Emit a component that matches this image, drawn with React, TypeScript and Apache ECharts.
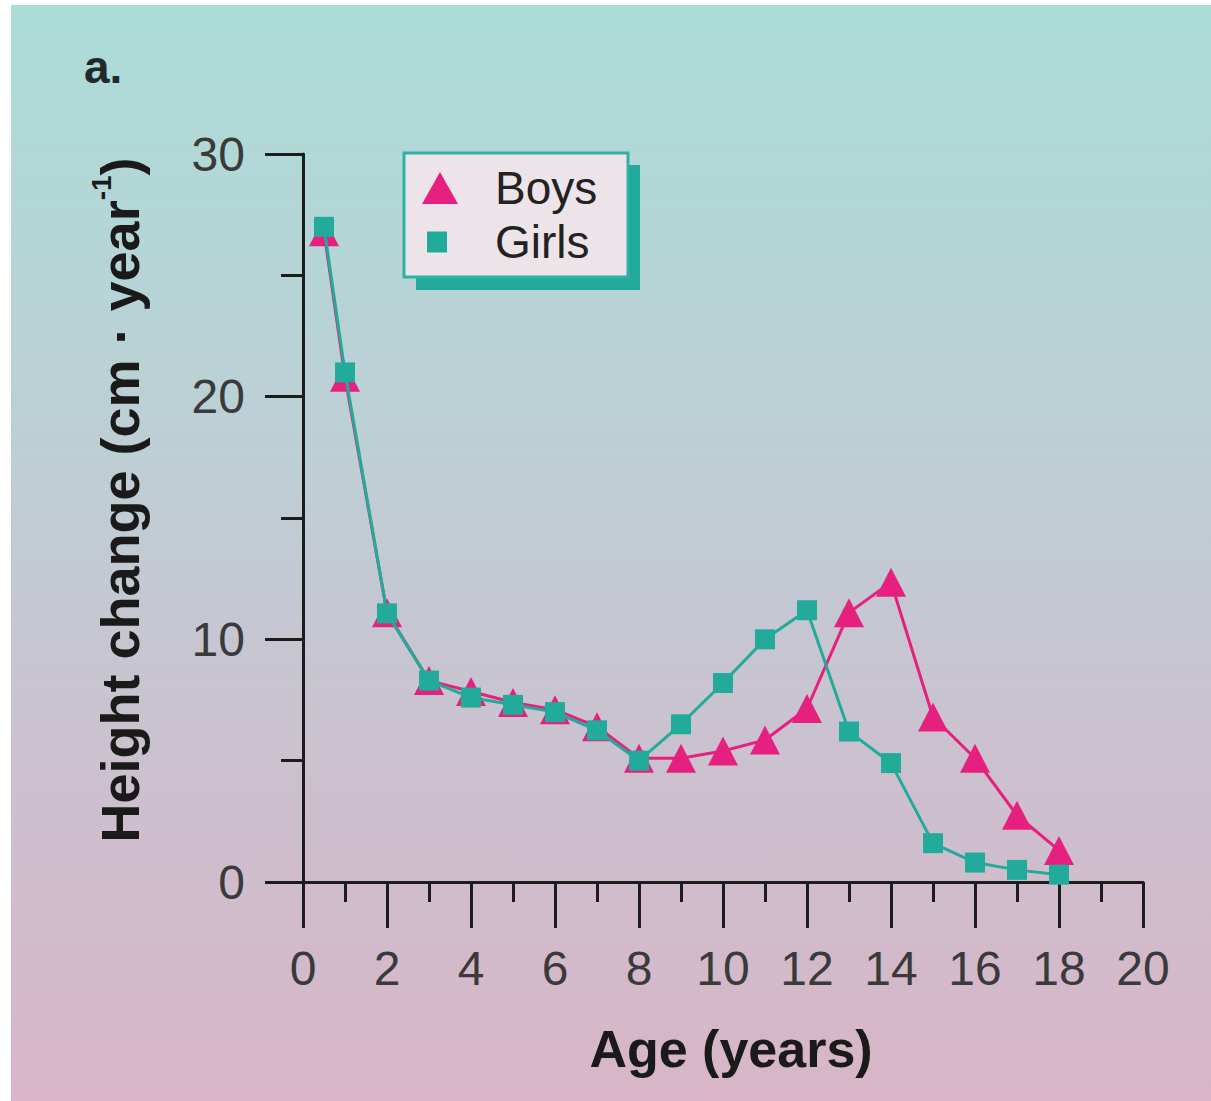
import React, { useEffect, useRef } from "react";
import * as echarts from "echarts";

const ages = [0.5, 1, 2, 3, 4, 5, 6, 7, 8, 9, 10, 11, 12, 13, 14, 15, 16, 17, 18];
const boys = [26.8, 20.8, 11.1, 8.3, 7.85, 7.4, 7.1, 6.4, 5.1, 5.1, 5.4, 5.85, 7.15, 11.1, 12.35, 6.8, 5.1, 2.75, 1.3];
const girls = [27.0, 21.0, 11.07, 8.3, 7.6, 7.3, 7.0, 6.25, 5.0, 6.5, 8.2, 10.0, 11.2, 6.2, 4.9, 1.6, 0.8, 0.5, 0.3];
const xTicks = { min: 0, max: 20, interval: 2 };
const yTicks = { min: 0, max: 30, interval: 10 };

const BOY = "#e6207e";
const GIRL = "#22ab9b";
const AXIS = "#1c1c1c";

export default function App() {
  const ref = useRef<HTMLDivElement>(null);
  useEffect(() => {
    if (!ref.current) return;
    const chart = echarts.init(ref.current, null, { renderer: "svg" });
    const font = "Liberation Sans, Arial, Helvetica, sans-serif";
    chart.setOption({
      animation: false,
      backgroundColor: "#ffffff",
      textStyle: { fontFamily: font },
      grid: { left: 303, top: 154, right: 68, bottom: 219, containLabel: false },
      xAxis: {
        type: "value",
        min: xTicks.min,
        max: xTicks.max,
        interval: xTicks.interval,
        name: "Age (years)",
        nameLocation: "middle",
        nameGap: 141,
        nameTextStyle: { fontSize: 52, fontWeight: "bold", color: "#1a1a1a", fontFamily: font, padding: [0, 0, 0, 16] },
        axisLine: { show: true, lineStyle: { color: AXIS, width: 3 } },
        axisTick: { show: true, length: 46, lineStyle: { color: AXIS, width: 3 } },
        minorTick: { show: true, splitNumber: 2, length: 20, lineStyle: { color: AXIS, width: 3 } },
        axisLabel: { margin: 62, fontSize: 48, color: "#3a3a3a", fontFamily: font },
        splitLine: { show: false },
      },
      yAxis: {
        type: "value",
        min: yTicks.min,
        max: yTicks.max,
        interval: yTicks.interval,
        name: "{a|Height change (cm · year}{s|-1}{a|)}",
        nameLocation: "middle",
        nameGap: 156,
        nameTextStyle: {
          fontSize: 54,
          fontWeight: "bold",
          color: "#1a1a1a",
          fontFamily: font,
          padding: [0, 0, 0, 36],
          rich: {
            a: { fontSize: 54, fontWeight: "bold", color: "#1a1a1a", fontFamily: font, lineHeight: 60, verticalAlign: "bottom" },
            s: { fontSize: 28, fontWeight: "bold", color: "#1a1a1a", fontFamily: font, lineHeight: 60, verticalAlign: "top" },
          },
        },
        axisLine: { show: true, lineStyle: { color: AXIS, width: 3 } },
        axisTick: { show: true, length: 38, lineStyle: { color: AXIS, width: 3 } },
        minorTick: { show: true, splitNumber: 2, length: 22, lineStyle: { color: AXIS, width: 3 } },
        axisLabel: { margin: 58, fontSize: 48, color: "#3a3a3a", fontFamily: font },
        splitLine: { show: false },
      },
      legend: [
        {
          data: ["Boys"],
          left: 422,
          top: 165,
          padding: 0,
          itemWidth: 36,
          itemHeight: 32,
          icon: "triangle",
          selectedMode: false,
          textStyle: { fontSize: 46, color: "#222", fontFamily: font, padding: [0, 0, 0, 32] },
        },
        {
          data: ["Girls"],
          left: 427,
          top: 219,
          padding: 0,
          itemWidth: 20,
          itemHeight: 21,
          icon: "rect",
          selectedMode: false,
          textStyle: { fontSize: 46, color: "#222", fontFamily: font, padding: [0, 0, 0, 43] },
        },
      ],
      graphic: [
        {
          type: "rect",
          z: -100,
          silent: true,
          shape: { x: 11, y: 5, width: 1200, height: 1096 },
          style: {
            fill: new echarts.graphic.LinearGradient(0, 0, 0, 1, [
              { offset: 0, color: "#abdcd7" },
              { offset: 0.4, color: "#bdcfd5" },
              { offset: 0.68, color: "#cbc1cf" },
              { offset: 1, color: "#d8b5c7" },
            ]),
          },
        },
        {
          type: "rect",
          z: 1,
          silent: true,
          shape: { x: 416, y: 165, width: 224, height: 125 },
          style: { fill: "#22ab9b" },
        },
        {
          type: "rect",
          z: 2,
          silent: true,
          shape: { x: 404, y: 153, width: 224, height: 124 },
          style: { fill: "#ede4ea", stroke: "#2fb2a5", lineWidth: 3 },
        },
        {
          type: "text",
          z: 5,
          left: 84,
          top: 44,
          style: { text: "a.", fontSize: 46, fontWeight: "bold", fill: "#1f2a2a", fontFamily: font },
        },
      ],
      series: [
        {
          name: "Boys",
          type: "line",
          data: ages.map((a, i) => [a, boys[i]]),
          symbol: "triangle",
          symbolSize: [30, 29],
          lineStyle: { color: BOY, width: 3 },
          itemStyle: { color: BOY },
          z: 3,
        },
        {
          name: "Girls",
          type: "line",
          data: ages.map((a, i) => [a, girls[i]]),
          symbol: "rect",
          symbolSize: 20,
          lineStyle: { color: GIRL, width: 3 },
          itemStyle: { color: GIRL },
          z: 4,
        },
      ],
    });
    return () => chart.dispose();
  }, []);
  return (
    <div
      ref={ref}
      style={{ position: "absolute", left: 0, top: 0, width: 1211, height: 1101 }}
    />
  );
}
